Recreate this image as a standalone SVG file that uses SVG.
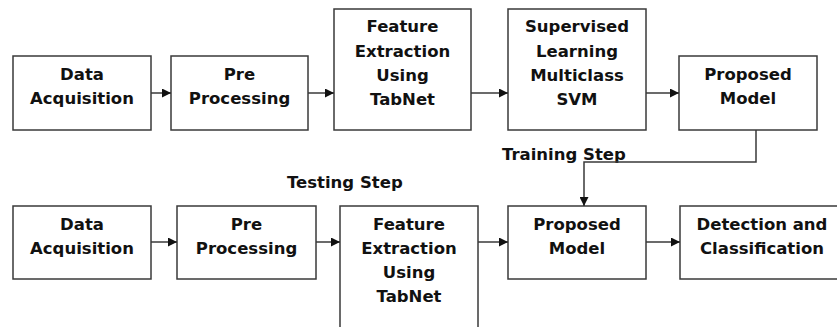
<svg xmlns="http://www.w3.org/2000/svg" width="837" height="327" viewBox="0 0 837 327">
  <style>
    .box { fill: #ffffff; stroke: #3a3a3a; stroke-width: 1.5; }
    .lbl { font-family: "DejaVu Sans", Verdana, sans-serif; font-weight: bold; font-size: 16.5px; fill: #111111; text-anchor: middle; }
    .step { font-family: "DejaVu Sans", Verdana, sans-serif; font-weight: bold; font-size: 16.5px; fill: #111111; }
    .wire { fill: none; stroke: #3a3a3a; stroke-width: 1.5; }
  </style>
  <defs>
    <marker id="arrow" viewBox="0 0 10 10" refX="10" refY="5" markerWidth="9" markerHeight="9" markerUnits="userSpaceOnUse" orient="auto">
      <path d="M0,0 L10,5 L0,10 Z" fill="#111111"/>
    </marker>
  </defs>
  <rect width="837" height="327" fill="#ffffff"/>

  <!-- Training pipeline -->
  <g id="train-acquisition">
    <rect class="box" x="13" y="56" width="138" height="74"/>
    <text class="lbl" x="82" y="80">Data</text>
    <text class="lbl" x="82" y="103.5">Acquisition</text>
  </g>
  <g id="train-preprocessing">
    <rect class="box" x="171" y="56" width="137" height="74"/>
    <text class="lbl" x="239.5" y="80">Pre</text>
    <text class="lbl" x="239.5" y="103.5">Processing</text>
  </g>
  <g id="train-feature">
    <rect class="box" x="334" y="9" width="137" height="121"/>
    <text class="lbl" x="402.5" y="32">Feature</text>
    <text class="lbl" x="402.5" y="56.5">Extraction</text>
    <text class="lbl" x="402.5" y="80.5">Using</text>
    <text class="lbl" x="402.5" y="105">TabNet</text>
  </g>
  <g id="train-svm">
    <rect class="box" x="508" y="9" width="138" height="121"/>
    <text class="lbl" x="577" y="32">Supervised</text>
    <text class="lbl" x="577" y="56.5">Learning</text>
    <text class="lbl" x="577" y="80.5">Multiclass</text>
    <text class="lbl" x="577" y="105">SVM</text>
  </g>
  <g id="train-model">
    <rect class="box" x="679" y="56" width="138" height="74"/>
    <text class="lbl" x="748" y="80">Proposed</text>
    <text class="lbl" x="748" y="103.5">Model</text>
  </g>

  <!-- Step captions -->
  <g id="captions">
    <text class="step" x="502" y="160">Training Step</text>
    <text class="step" x="287" y="188">Testing Step</text>
  </g>

  <!-- Testing pipeline -->
  <g id="test-acquisition">
    <rect class="box" x="13" y="206" width="138" height="73"/>
    <text class="lbl" x="82" y="230">Data</text>
    <text class="lbl" x="82" y="253.5">Acquisition</text>
  </g>
  <g id="test-preprocessing">
    <rect class="box" x="177" y="206" width="139" height="73"/>
    <text class="lbl" x="246.5" y="230">Pre</text>
    <text class="lbl" x="246.5" y="253.5">Processing</text>
  </g>
  <g id="test-feature">
    <rect class="box" x="340" y="206" width="138" height="130"/>
    <text class="lbl" x="409" y="230">Feature</text>
    <text class="lbl" x="409" y="254">Extraction</text>
    <text class="lbl" x="409" y="278">Using</text>
    <text class="lbl" x="409" y="302">TabNet</text>
  </g>
  <g id="test-model">
    <rect class="box" x="508" y="206" width="138" height="73"/>
    <text class="lbl" x="577" y="230">Proposed</text>
    <text class="lbl" x="577" y="253.5">Model</text>
  </g>
  <g id="test-detection">
    <rect class="box" x="680" y="206" width="170" height="73"/>
    <text class="lbl" x="762" y="230">Detection and</text>
    <text class="lbl" x="762" y="253.5">Classification</text>
  </g>

  <!-- Connectors -->
  <g id="connectors">
    <line class="wire" x1="151" y1="93" x2="171" y2="93" marker-end="url(#arrow)"/>
    <line class="wire" x1="308" y1="93" x2="334" y2="93" marker-end="url(#arrow)"/>
    <line class="wire" x1="471" y1="93" x2="508" y2="93" marker-end="url(#arrow)"/>
    <line class="wire" x1="646" y1="93" x2="679" y2="93" marker-end="url(#arrow)"/>
    <polyline class="wire" points="756,130 756,162 584,162 584,206" marker-end="url(#arrow)"/>
    <line class="wire" x1="151" y1="242" x2="177" y2="242" marker-end="url(#arrow)"/>
    <line class="wire" x1="316" y1="242" x2="340" y2="242" marker-end="url(#arrow)"/>
    <line class="wire" x1="478" y1="242" x2="508" y2="242" marker-end="url(#arrow)"/>
    <line class="wire" x1="646" y1="242" x2="680" y2="242" marker-end="url(#arrow)"/>
  </g>
</svg>
